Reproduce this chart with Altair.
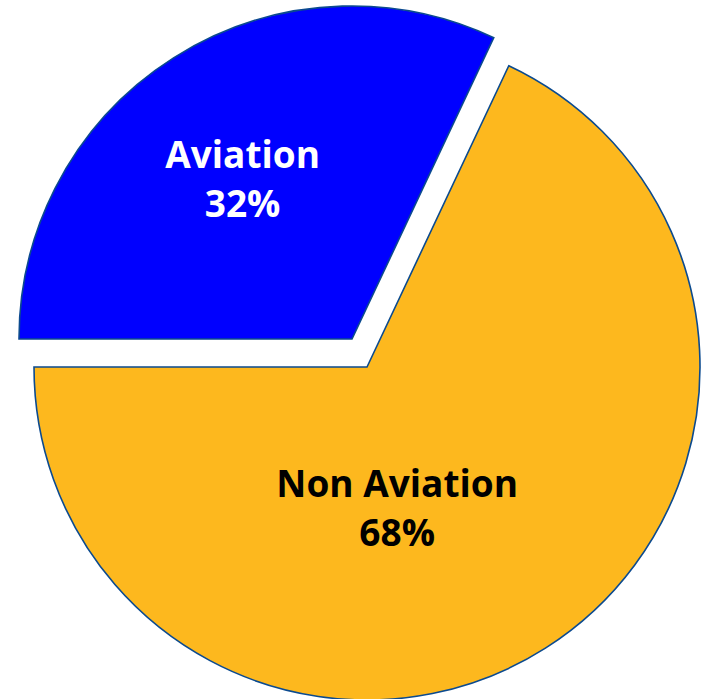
import math
import altair as alt
import pandas as pd

categories = ["Non Aviation", "Aviation"]
values = [68, 32]
labels = ["Non Aviation\n68%", "Aviation\n32%"]
colors = ["#FDB81E", "#0000FF"]
text_colors = ["#000000", "#FFFFFF"]

df = pd.DataFrame({
    "category": categories,
    "value": values,
    "label": labels,
    "order": list(range(len(categories))),
})

start = math.radians(25.2)
theta = alt.Theta("value:Q", stack=True,
                  scale=alt.Scale(type="linear", zero=True, range=[start, start + 2 * math.pi]))
color = alt.Color("category:N", scale=alt.Scale(domain=categories, range=colors), legend=None)
tcolor = alt.Color("category:N", scale=alt.Scale(domain=categories, range=text_colors), legend=None)

base = alt.Chart(df)

CX, CY = 367, 367
EX, EY = -15, -28
R = 333


def show(cat):
    return alt.condition(alt.datum.category == cat, alt.value(1), alt.value(0))


pie_main = base.mark_arc(radius=R, stroke="#0B4A8F", strokeWidth=1.6).encode(
    theta=theta, color=color, order=alt.Order("order:Q"),
    opacity=show("Non Aviation"),
    x=alt.value(CX), y=alt.value(CY),
)
pie_expl = base.mark_arc(radius=R, stroke="#0B4A8F", strokeWidth=1.6).encode(
    theta=theta, color=color, order=alt.Order("order:Q"),
    opacity=show("Aviation"),
    x=alt.value(CX + EX), y=alt.value(CY + EY),
)

txt_kw = dict(font="Open Sans", fontWeight="bold", fontSize=37, lineBreak="\n",
              lineHeight=49, align="center", baseline="middle")

text_main = base.mark_text(radius=144, dx=-47, dy=-3, **txt_kw).encode(
    theta=theta, order=alt.Order("order:Q"), text="label:N",
    color=tcolor, opacity=show("Non Aviation"),
    x=alt.value(CX), y=alt.value(CY),
)
text_expl = base.mark_text(radius=193, dx=-6, dy=-19, **txt_kw).encode(
    theta=theta, order=alt.Order("order:Q"), text="label:N",
    color=tcolor, opacity=show("Aviation"),
    x=alt.value(CX + EX), y=alt.value(CY + EY),
)

chart = alt.layer(pie_main, pie_expl, text_main, text_expl).resolve_scale(
    color="independent"
).properties(
    width=706, height=699, padding=0, autosize="none", background="white"
).configure_view(stroke=None)

chart.save("out.html", embed_options={"renderer": "svg", "actions": False})
